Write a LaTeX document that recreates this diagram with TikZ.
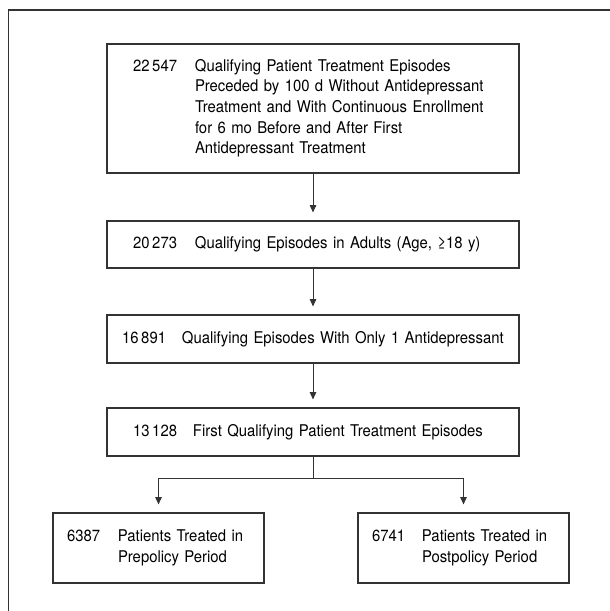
\documentclass[tikz,border=0pt]{standalone}
\usepackage{fontspec}
\setmainfont{TeX Gyre Heros}[FakeStretch=0.92]
\usetikzlibrary{arrows.meta}
\newcommand{\countrow}[3]{\begin{tabular}{@{}p{#2}@{}l@{}}#1&#3\end{tabular}}

\begin{document}
\begin{tikzpicture}[>={Triangle[length=1.8mm,width=1.6mm]},font=\fontsize{11.5}{14.7}\selectfont,line cap=round,
  stage/.style={draw=black!80,line width=0.8pt,inner xsep=0.65cm,inner ysep=0pt,text width=9cm,align=left},
  group/.style={stage,inner xsep=0.35cm,text width=4.575cm,minimum height=1.75cm},
  flow/.style={->,draw=black!80,line width=0.7pt,shorten >=0.2cm}]
\useasboundingbox (0,0) rectangle (15.25,-15.275);
\draw[black!80,line width=1.4pt,line cap=butt] (0.2125,-15.3) -- (0.2125,-0.25) -- (15.3,-0.25);
\node[stage,minimum height=3.225cm] (b1) at (7.825,-2.7125) {\countrow{22\,547}{1.55cm}{Qualifying Patient Treatment Episodes\\&Preceded by 100 d Without Antidepressant\\&Treatment and With Continuous Enrollment\\&for 6 mo Before and After First\\&Antidepressant Treatment}};
\node[stage,minimum height=1.175cm] (b2) at (7.825,-6.1125) {\countrow{20\,273}{1.55cm}{Qualifying Episodes in Adults (Age, ≥18 y)}};
\node[stage,minimum height=1.2cm,inner xsep=0.375cm,text width=9.55cm] (b3) at (7.825,-8.475) {\countrow{16\,891}{1.5cm}{Qualifying Episodes With Only 1 Antidepressant}};
\node[stage,minimum height=1.2cm] (b4) at (7.825,-10.8) {\countrow{13\,128}{1.5cm}{First Qualifying Patient Treatment Episodes}};
\node[group] (b5) at (3.9625,-13.7) {\countrow{6387}{1.275cm}{Patients Treated in\\&Prepolicy Period}};
\node[group] (b6) at (11.5875,-13.7) {\countrow{6741}{1.25cm}{Patients Treated in\\&Postpolicy Period}};
\coordinate (split) at (7.825,-11.95);
\draw[flow] (b1) -- (b2);
\draw[flow] (b2) -- (b3);
\draw[flow] (b3) -- (b4);
\draw[black!80,line width=0.7pt] (b4) -- (split);
\draw[flow] (split) -| (b5);
\draw[flow] (split) -| (b6);
\end{tikzpicture}
\end{document}
